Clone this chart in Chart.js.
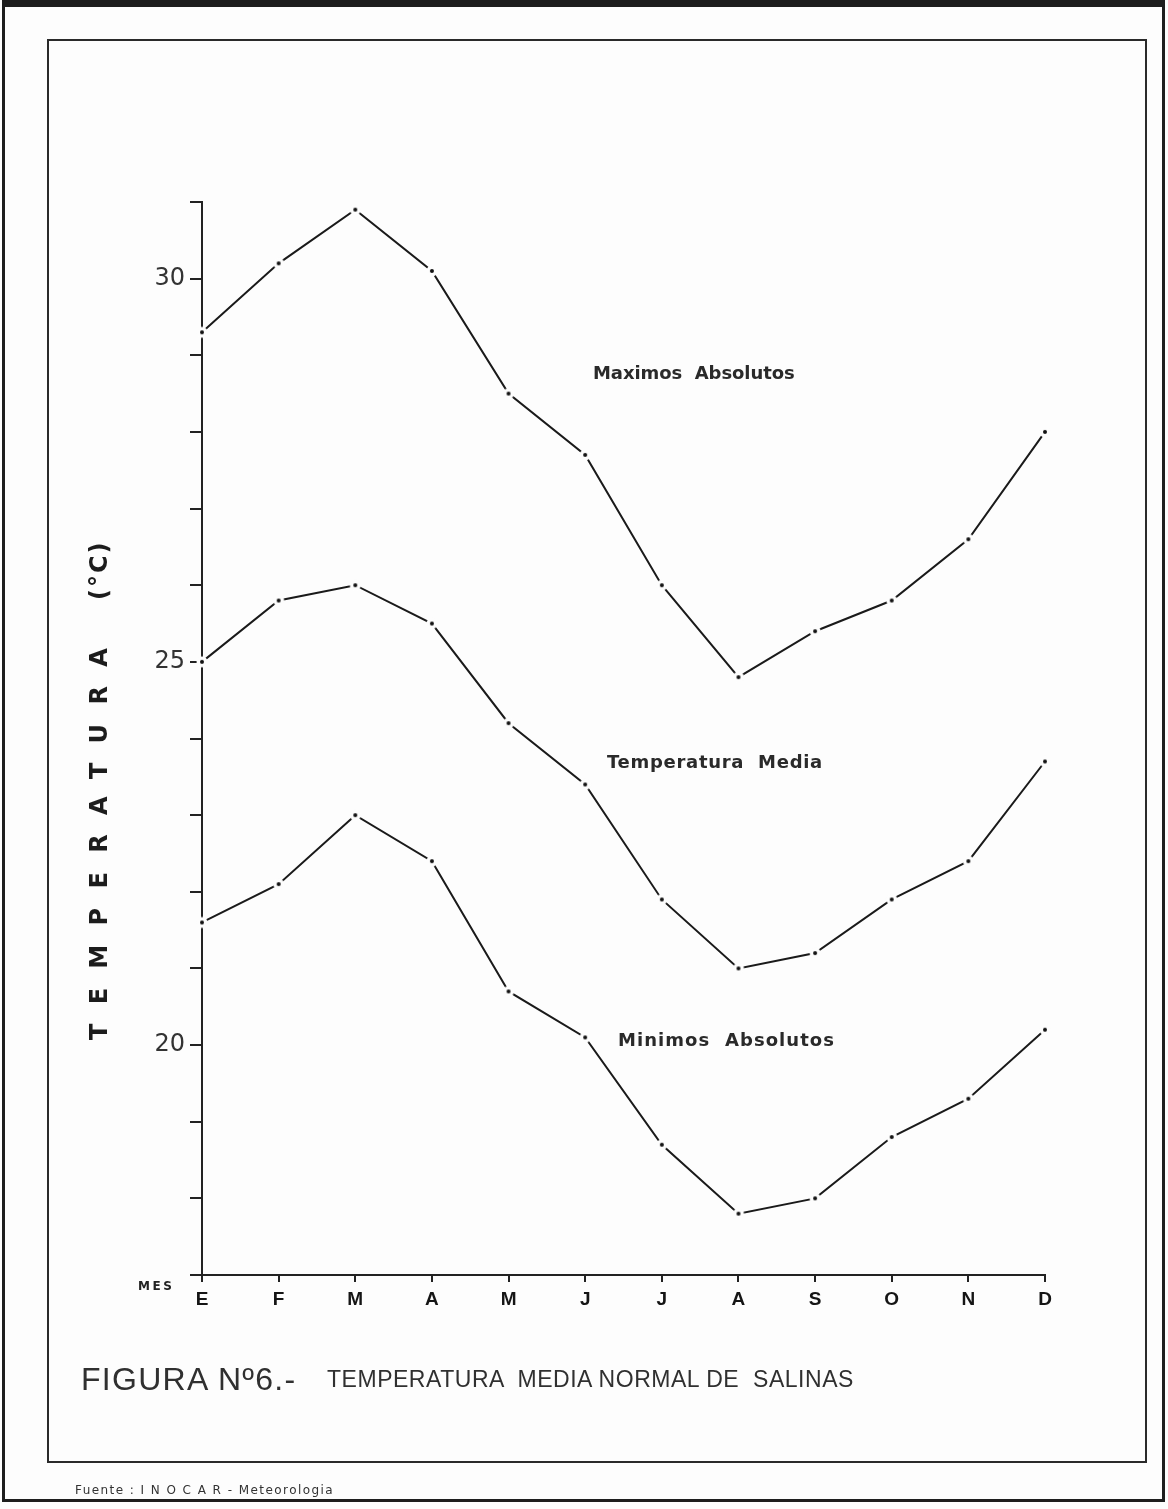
<!DOCTYPE html>
<html>
<head>
<meta charset="utf-8">
<script src="https://cdn.jsdelivr.net/npm/chart.js@4.4.1/dist/chart.umd.min.js"></script>
<style>
  html, body { margin: 0; padding: 0; background: #fff; }
  #page { position: relative; width: 1168px; height: 1509px; overflow: hidden; background: #fdfdfd; }
  .outer { position: absolute; left: 2px; top: 0; width: 1157px; height: 1492px; border: 3px solid #1e1e1e; border-top-width: 7px; }
  .inner { position: absolute; left: 47px; top: 39px; width: 1096px; height: 1420px; border: 2px solid #2a2a2a; }
  canvas { position: absolute; left: 0; top: 0; }
  .txt { position: absolute; white-space: pre; color: #222; line-height: 1; }
  .ytitle { font: bold 24px "DejaVu Sans", sans-serif; transform-origin: 0 0; transform: rotate(-90deg); color: #1c1c1c; }
  .serie { font: bold 18px "DejaVu Sans", sans-serif; color: #2a2a2a; }
  .fig { font: 32px "Liberation Sans Narrow", "Liberation Sans", sans-serif; color: #303030; }
  .sub { font: 23px "Liberation Sans Narrow", "Liberation Sans", sans-serif; color: #303030; }
  .mes { font: bold 12px "DejaVu Sans", sans-serif; color: #222; }
  .foot { font: 12px "DejaVu Sans", sans-serif; color: #333; }
</style>
</head>
<body>
<div id="page">
  <div class="outer"></div>
  <div class="inner"></div>
  <canvas id="c" width="1168" height="1509"></canvas>

  <div class="txt ytitle" data-w="392" style="left:85px; top:1040px;">TEMPERATURA</div>
  <div class="txt ytitle" data-w="58" style="left:85px; top:600px;">(°C)</div>

  <div class="txt serie" data-w="202" style="left:593px; top:362px;">Maximos  Absolutos</div>
  <div class="txt serie" data-w="215" style="left:607px; top:751px;">Temperatura  Media</div>
  <div class="txt serie" data-w="216" style="left:618px; top:1029px;">Minimos  Absolutos</div>

  <div class="txt mes" data-w="34" style="left:138px; top:1279px;">MES</div>

  <div class="txt fig" data-w="214" style="left:81px; top:1361px;">FIGURA Nº6.-</div>
  <div class="txt sub" data-w="526" style="left:327px; top:1366px;">TEMPERATURA  MEDIA NORMAL DE  SALINAS</div>

  <div class="txt foot" data-w="258" style="left:75px; top:1483px;">Fuente : I N O C A R - Meteorologia</div>
</div>

<script>
// Months (Spanish initials) and monthly temperatures in °C
const months  = ['E', 'F', 'M', 'A', 'M', 'J', 'J', 'A', 'S', 'O', 'N', 'D'];
const maximos = [29.3, 30.2, 30.9, 30.1, 28.5, 27.7, 26.0, 24.8, 25.4, 25.8, 26.6, 28.0];
const media   = [25.0, 25.8, 26.0, 25.5, 24.2, 23.4, 21.9, 21.0, 21.2, 21.9, 22.4, 23.7];
const minimos = [21.6, 22.1, 23.0, 22.4, 20.7, 20.1, 18.7, 17.8, 18.0, 18.8, 19.3, 20.2];

// Temperature axis range and the ticks that carry a number
const yMin = 17;
const yMax = 31;
const yLabelled = [20, 25, 30];

// Spread letters so each caption spans its width
document.querySelectorAll('.txt[data-w]').forEach(el => {
  const target = parseFloat(el.dataset.w);
  const natural = el.offsetWidth;
  const n = el.textContent.length;
  if (n > 1) el.style.letterSpacing = ((target - natural) / (n - 1)) + 'px';
});

// Plotter-style marker: a small dot with a clear ring where the pen lifted
function dotMarker() {
  const c = document.createElement('canvas');
  c.width = c.height = 14;
  const g = c.getContext('2d');
  g.fillStyle = '#fdfdfd';
  g.beginPath(); g.arc(7, 7, 5.5, 0, Math.PI * 2); g.fill();
  g.fillStyle = '#111';
  g.beginPath(); g.arc(7, 7, 2, 0, Math.PI * 2); g.fill();
  return c;
}
const marker = dotMarker();

function serie(values) {
  return {
    data: values,
    borderColor: '#1a1a1a',
    borderWidth: 2,
    tension: 0,
    fill: false,
    pointStyle: marker,
    pointRadius: 6,
    clip: false
  };
}

new Chart(document.getElementById('c'), {
  type: 'line',
  data: {
    labels: months,
    datasets: [serie(maximos), serie(media), serie(minimos)]
  },
  options: {
    responsive: false,
    animation: false,
    layout: { padding: { top: 202, right: 123, bottom: 0, left: 0 } },
    plugins: { legend: { display: false }, tooltip: { enabled: false } },
    scales: {
      x: {
        offset: false,
        grid: { drawOnChartArea: false, drawTicks: true, tickLength: 7, color: '#222', lineWidth: 2 },
        border: { display: true, color: '#222', width: 2 },
        ticks: {
          color: '#151515',
          font: { family: 'Liberation Sans', size: 19, weight: 'bold' },
          padding: 6,
          maxRotation: 0,
          autoSkip: false
        },
        afterFit(scale) { scale.height = 234; }
      },
      y: {
        min: yMin,
        max: yMax,
        grid: { drawOnChartArea: false, drawTicks: true, tickLength: 12, color: '#222', lineWidth: 2 },
        border: { display: true, color: '#222', width: 2 },
        ticks: {
          stepSize: 1,
          autoSkip: false,
          color: '#333',
          font: { family: 'DejaVu Sans', size: 24 },
          padding: 5,
          callback: v => (yLabelled.includes(v) ? String(v) : '')
        },
        afterFit(scale) { scale.width = 202; }
      }
    }
  }
});
</script>
</body>
</html>
